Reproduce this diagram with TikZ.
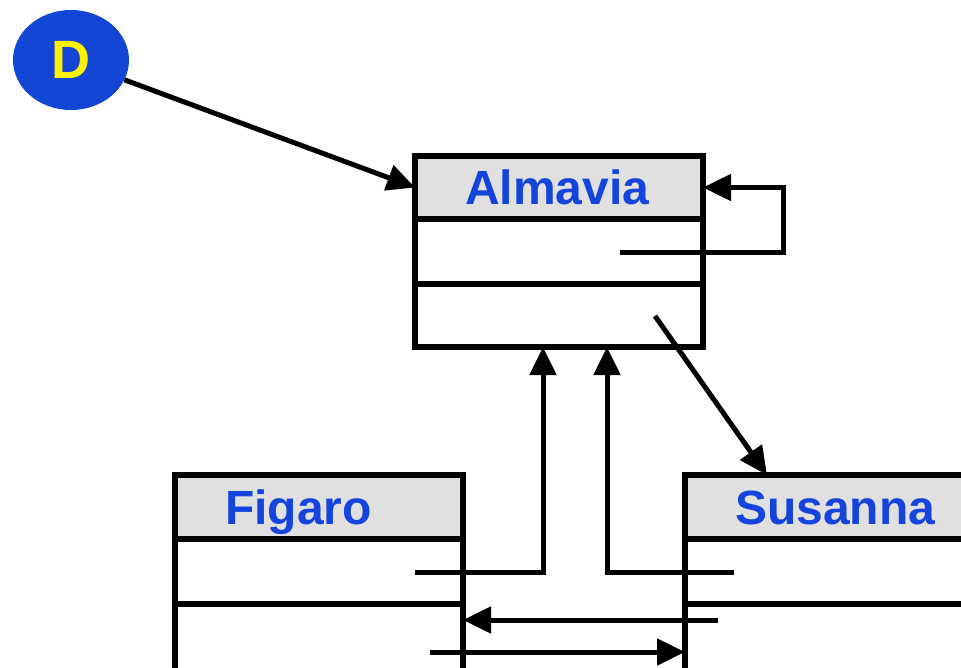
\documentclass[tikz,border=0pt]{standalone}
\usepackage{fontspec}
\setmainfont{Liberation Sans}
\usetikzlibrary{arrows.meta,shapes.geometric,calc}
\definecolor{dblue}{HTML}{1446D6}
\definecolor{tblue}{HTML}{1444DC}
\definecolor{hgray}{HTML}{E0E0E0}
\tikzset{
  cbox/.style={draw=black, line width=5.5pt, rectangle, anchor=north west, inner sep=0pt, outer sep=0pt},
  hdr/.style={cbox, fill=hgray, text=tblue, inner xsep=50pt, align=left,
    text height=34pt, text depth=0pt,
    font=\fontsize{48}{52}\selectfont\bfseries},
  arr/.style={line width=5pt, -{Triangle[length=28pt,width=26pt]}},
}
\begin{document}
\begin{tikzpicture}[x=1pt,y=-1pt]
\useasboundingbox (0,0) rectangle (961,667);
\clip (0,0) rectangle (961,667);
% D
\node[ellipse, fill=dblue, minimum width=116pt, minimum height=100pt, inner sep=0pt,
  text=yellow, font=\fontsize{54}{58}\selectfont\bfseries] (D) at (71,60) {D};
% Almavia
\node[hdr, minimum width=288pt, minimum height=63pt, text width=188pt] (alh) at (415,156) {Almavia};
\node[cbox, minimum width=288pt, minimum height=65pt] (ala) at (alh.south west) {};
\node[cbox, minimum width=288pt, minimum height=63pt] (alo) at (ala.south west) {};
% Figaro
\node[hdr, minimum width=288pt, minimum height=64pt, text width=188pt] (figh) at (175,475) {Figaro};
\node[cbox, minimum width=288pt, minimum height=65pt] (figa) at (figh.south west) {};
\node[cbox, minimum width=288pt, minimum height=90pt] (figo) at (figa.south west) {};
% Susanna
\node[hdr, minimum width=300pt, minimum height=64pt, text width=200pt] (sush) at (685,475) {Susanna};
\node[cbox, minimum width=300pt, minimum height=65pt] (susa) at (sush.south west) {};
\node[cbox, minimum width=300pt, minimum height=90pt] (suso) at (susa.south west) {};
% connectors
\draw[arr] (D) -- (alh.west);
\coordinate (s1) at (620,252);
\draw[arr] (s1) -- (783,252) |- (alh.east);
\coordinate (o1) at (655,316);
\coordinate (st) at ($(sush.north west)+(82,0)$);
\draw[arr] (o1) -- (st);
\coordinate (f1) at (415,572);
\coordinate (f1t) at ($(alo.south west)+(128,0)$);
\draw[arr] (f1) -| (f1t);
\coordinate (s2) at (734,572);
\coordinate (s2t) at ($(alo.south west)+(192,0)$);
\draw[arr] (s2) -| (s2t);
\coordinate (s3) at (718,620);
\draw[arr] (s3) -- (s3 -| figo.east);
\coordinate (f3) at (430,652);
\draw[arr] (f3) -- (f3 -| suso.west);
\end{tikzpicture}
\end{document}
